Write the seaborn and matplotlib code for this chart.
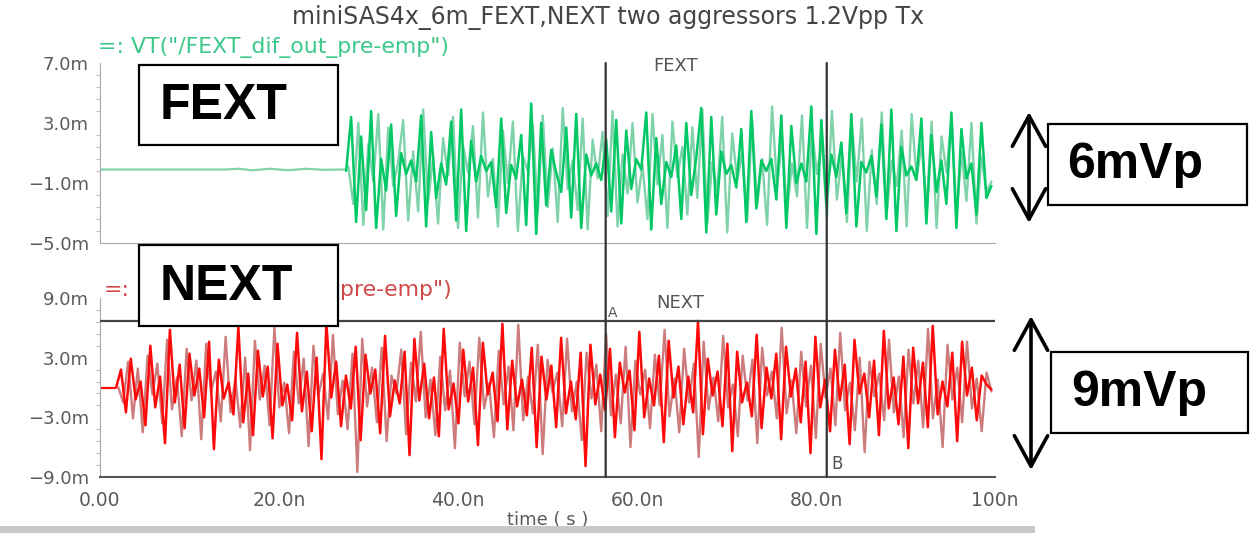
import numpy as np
import matplotlib
matplotlib.use("Agg")
import matplotlib.pyplot as plt
import seaborn as sns
from matplotlib.patches import Rectangle, FancyArrowPatch, ConnectionPatch
from matplotlib.ticker import FixedLocator, MultipleLocator, AutoMinorLocator

# ---------------- data ----------------
title = "miniSAS4x_6m_FEXT,NEXT two aggressors 1.2Vpp Tx"
fext_legend = '=: VT("/FEXT_dif_out_pre-emp")'
next_legend_left = '=:'
next_legend_right = 'pre-emp")'

x_ticks = [0, 20, 40, 60, 80, 100]
x_tick_labels = ["0.00", "20.0n", "40.0n", "60.0n", "80.0n", "100n"]
fext_y_ticks = [7, 3, -1, -5]
next_y_ticks = [9, 3, -3, -9]

cursor_t = [56.5, 81.2]          # ns, cursors A and B
next_level = 6.7                 # mV, horizontal marker in NEXT pane

fext_quiet_t = [0.0, 14.0, 15.5, 17.0, 19.0, 21.0, 23.0, 25.0, 27.4]
fext_quiet_v = [-0.1, -0.1, -0.05, -0.15, -0.05, -0.15, -0.05, -0.12, -0.1]
fext_start, fext_end = 27.5, 99.6

fext_bright = [
    -0.2, 3.4, -3.6, 2.1, -2.8, 3.8, -4.0, 0.6, -1.5, 2.9,
    -3.2, 1.0, -0.4, 0.5, -0.9, 3.5, -3.9, 2.4, -2.0, 0.3,
    -1.1, 3.1, -3.5, 3.9, -4.2, 1.8, -0.9, 0.8, -0.2, 0.4,
    -2.6, 3.3, -3.0, 0.2, -0.7, 2.2, -3.8, 4.3, -4.4, 3.0,
    -2.5, 1.2, -0.3, -1.6, 2.7, -3.3, 3.6, -4.0, 0.9, -0.5,
    0.3, -0.8, 1.9, -2.9, 3.2, -3.7, 2.5, -1.4, 0.6, -0.1,
    3.7, -4.1, 2.0, -2.4, 0.4, -0.6, 1.5, -3.4, 3.0, -1.8,
    0.7, 4.0, -4.3, 3.4, -3.1, 1.1, -0.4, 0.2, -1.3, 2.6,
    -3.6, 3.8, -2.7, 0.5, -0.2, 0.6, -2.1, 3.5, -4.0, 2.8,
    -1.0, 0.3, -0.9, 4.1, -4.4, 3.2, -2.3, 0.9, -0.6, 1.7,
    -3.0, 3.6, -3.9, 0.4, -0.3, 0.8, -1.9, 2.9, -3.4, 3.9,
    -4.2, 1.4, -0.5, 0.1, -0.8, 3.3, -3.7, 2.2, -1.6, 0.5,
    -2.4, 3.7, -4.0, 2.6, -0.7, 0.3, -3.1, 3.0, -2.0, -1.2,
]
fext_pale = [
    0.1, -2.4, 3.0, -3.8, 1.6, -0.9, 3.6, -4.1, 2.7, -1.2,
    0.4, 3.2, -3.5, 1.1, -2.9, 3.9, -2.2, 0.7, -3.7, 2.0,
    -0.5, 3.4, -4.0, 1.5, -0.3, 2.8, -3.3, 3.7, -1.9, 0.6,
    -3.9, 2.5, -1.0, 3.1, -4.2, 0.8, -0.2, 2.9, -3.0, 3.5,
    -2.6, 1.3, -3.6, 4.0, -1.4, 0.5, -2.8, 3.3, -4.1, 1.9,
    -0.7, 2.4, -3.2, 3.8, -3.9, 0.9, -1.7, 3.0, -2.3, 0.2,
    -3.4, 3.6, -1.1, 2.2, -4.0, 3.1, -0.6, 1.4, -3.1, 2.7,
    -2.0, 3.9, -3.7, 0.4, -1.5, 3.4, -4.3, 2.3, -0.8, 1.0,
    -3.5, 3.2, -2.5, 0.6, -3.8, 4.1, -1.3, 2.0, -2.9, 0.3,
    -1.9, 3.5, -4.0, 2.6, -0.4, 1.8, -3.3, 3.8, -2.1, 0.9,
    -3.6, 2.9, -0.9, 3.3, -4.2, 1.2, -2.4, 3.7, -3.0, 0.5,
    -1.2, 2.5, -3.9, 3.6, -0.7, 1.6, -2.7, 3.1, -4.0, 2.1,
    -0.3, 3.4, -3.2, 1.1, -2.2, 3.0, -3.7, 0.8, -1.6, -0.9,
]

next_quiet_t = [0.0, 1.7]
next_quiet_v = [-0.1, -0.1]
next_start, next_end = 1.8, 99.6

next_bright = [
    0.0, 1.8, -2.5, 2.9, -1.2, 0.6, -3.8, 4.2, -2.0, 1.1,
    -5.6, 5.8, -1.5, 2.3, -4.1, 3.4, -0.8, 1.9, -3.0, 4.6,
    -6.2, 2.8, -1.1, 0.5, -2.7, 6.1, -3.5, 1.4, -4.8, 3.7,
    -0.9, 2.1, -5.1, 4.4, -1.8, 0.3, -3.3, 5.5, -2.4, 1.6,
    -4.4, 3.0, -7.2, 6.5, -1.0, 2.6, -3.9, 1.2, -2.1, 4.1,
    -5.3, 3.3, -0.6, 1.8, -4.6, 5.2, -2.9, 0.7, -1.6, 3.6,
    -6.8, 4.9, -1.3, 2.4, -3.1, 1.0, -4.9, 5.9, -2.2, 0.4,
    -3.6, 3.8, -1.4, 2.0, -5.8, 4.5, -0.7, 1.5, -3.4, 6.4,
    -4.2, 2.7, -1.9, 0.8, -2.8, 4.0, -6.0, 3.1, -1.2, 2.2,
    -4.0, 5.0, -2.6, 0.6, -3.2, 3.5, -7.9, 4.3, -1.7, 1.3,
    -2.3, 3.9, -5.0, 2.5, -0.5, 1.7, -4.3, 5.6, -3.0, 0.9,
    -1.8, 3.2, -5.5, 4.7, -1.0, 2.1, -3.7, 1.1, -2.5, 6.7,
    -4.7, 2.9, -0.8, 1.6, -3.9, 4.4, -6.4, 3.6, -1.5, 0.5,
    -2.9, 5.3, -4.1, 2.0, -1.1, 3.4, -5.2, 4.1, -0.9, 1.9,
    -3.5, 2.6, -6.6, 5.1, -2.0, 0.8, -4.4, 3.8, -1.3, 2.3,
    -5.7, 4.8, -0.6, 1.4, -3.0, 2.7, -4.8, 5.7, -2.1, 1.0,
    -3.7, 3.1, -6.1, 4.0, -1.6, 2.5, -4.0, 6.2, -2.7, 0.6,
    -1.9, 3.5, -5.4, 4.6, -0.8, 2.0, -3.3, 1.2, 0.3, -0.2,
]
next_pale = [
    0.0, -1.5, 2.6, -3.1, 1.9, -4.5, 3.2, -0.7, 2.4, -3.6,
    4.8, -2.2, 1.0, -4.9, 3.9, -1.3, 2.7, -5.2, 4.4, -0.4,
    1.6, -3.4, 5.1, -2.5, 0.9, -4.0, 3.0, -6.3, 4.7, -1.2,
    2.2, -3.8, 6.0, -2.0, 0.5, -4.6, 3.6, -1.6, 2.9, -5.9,
    4.2, -0.8, 1.4, -3.2, 5.3, -2.7, 0.7, -4.2, 3.4, -8.5,
    4.9, -1.9, 2.0, -3.5, 4.0, -5.4, 1.2, -0.6, 3.8, -4.7,
    2.5, -1.4, 5.6, -3.0, 0.8, -4.8, 3.1, -2.3, 1.7, -6.1,
    4.5, -0.9, 2.6, -3.7, 5.0, -2.1, 0.4, -5.0, 3.7, -1.7,
    2.1, -4.3, 6.3, -3.3, 1.1, -2.6, 4.3, -6.7, 2.8, -0.5,
    1.5, -3.9, 4.9, -2.4, 0.6, -5.3, 3.5, -1.1, 2.3, -4.4,
    5.4, -2.8, 1.3, -3.6, 4.1, -6.0, 2.7, -0.7, 1.8, -4.1,
    3.3, -1.8, 5.8, -2.9, 0.9, -4.5, 3.9, -1.5, 2.4, -7.0,
    4.6, -2.2, 1.0, -3.4, 5.2, -2.0, 0.3, -4.9, 3.2, -1.3,
    2.8, -5.6, 4.0, -0.8, 1.6, -3.1, 6.0, -2.6, 0.7, -4.6,
    3.6, -1.9, 2.2, -5.1, 4.4, -1.0, 1.9, -3.8, 5.5, -2.3,
    0.5, -4.3, 3.0, -6.5, 2.6, -0.9, 1.4, -3.3, 4.8, -2.5,
    1.1, -5.0, 3.8, -1.6, 2.7, -4.0, 5.9, -3.1, 0.8, -6.0,
    4.3, -1.2, 2.0, -3.5, 4.6, -2.1, 0.9, -4.4, 1.5, -0.4,
]

# ---------------- styling ----------------
sns.set_style("white")
plt.rcParams["font.family"] = ["DejaVu Sans"]

W, H = 1253, 533
fig = plt.figure(figsize=(W / 100, H / 100), dpi=100)


def fx(x):
    return x / W


def fy(y):
    return 1 - y / H


AX_L, AX_R = 100, 995
ax1 = fig.add_axes([fx(AX_L), fy(243), (AX_R - AX_L) / W, (243 - 63) / H])
ax2 = fig.add_axes([fx(AX_L), fy(477), (AX_R - AX_L) / W, (477 - 298) / H])

GREEN, GREEN_PALE = "#00c864", "#80d2aa"
RED, RED_PALE = "#ff0a0a", "#cc7c7c"
TICK_GRAY = "#5a5a5a"

# FEXT traces
sns.lineplot(x=fext_quiet_t, y=fext_quiet_v, ax=ax1, color=GREEN_PALE, lw=1.6,
             estimator=None, sort=False)
t_pale = np.linspace(fext_start + 0.25, fext_end, len(fext_pale))
t_bright = np.linspace(fext_start, fext_end, len(fext_bright))
sns.lineplot(x=t_pale, y=fext_pale, ax=ax1, color=GREEN_PALE, lw=1.7,
             estimator=None, sort=False)
sns.lineplot(x=t_bright, y=fext_bright, ax=ax1, color=GREEN, lw=1.8,
             estimator=None, sort=False)

# NEXT traces
sns.lineplot(x=next_quiet_t, y=next_quiet_v, ax=ax2, color=RED, lw=1.6,
             estimator=None, sort=False)
n_pale = np.linspace(next_start + 0.25, next_end, len(next_pale))
n_bright = np.linspace(next_start, next_end, len(next_bright))
sns.lineplot(x=n_pale, y=next_pale, ax=ax2, color=RED_PALE, lw=1.7,
             estimator=None, sort=False)
sns.lineplot(x=n_bright, y=next_bright, ax=ax2, color=RED, lw=1.8,
             estimator=None, sort=False)
ax2.axhline(next_level, color="#444444", lw=1.6, zorder=5)


def mfmt(v):
    return f"{v:.1f}m".replace("-", "\u2212")


for ax, yt, (lo, hi) in ((ax1, fext_y_ticks, (-5, 7)), (ax2, next_y_ticks, (-9, 9))):
    ax.set_xlim(0, 100)
    ax.set_ylim(lo, hi)
    ax.set_facecolor("none")
    for s in ("top", "right"):
        ax.spines[s].set_visible(False)
    ax.spines["left"].set_color("#aaaaaa")
    ax.yaxis.set_major_locator(FixedLocator(yt))
    ax.set_yticklabels([mfmt(v) for v in yt])
    ax.yaxis.set_minor_locator(AutoMinorLocator(5))
    ax.xaxis.set_major_locator(FixedLocator(x_ticks))
    ax.xaxis.set_minor_locator(MultipleLocator(2))
    ax.tick_params(axis="y", which="major", length=6, width=1, color="#aaaaaa",
                   labelcolor=TICK_GRAY, labelsize=13, pad=2, direction="out")
    ax.tick_params(axis="y", which="minor", length=3, width=0.8, color="#bbbbbb",
                   direction="out", left=True)
    ax.tick_params(axis="x", which="major", length=8, width=1.2, direction="inout")
    ax.tick_params(axis="x", which="minor", length=4, width=0.8, direction="in")
    ax.set_xlabel("")
    ax.set_ylabel("")

ax1.spines["bottom"].set_color("#aaaaaa")
ax1.tick_params(axis="x", which="both", color="#aaaaaa", labelbottom=False)
ax2.spines["bottom"].set_color("#555555")
ax2.spines["bottom"].set_linewidth(1.5)
ax2.tick_params(axis="x", which="both", color="#777777", labelcolor=TICK_GRAY,
                labelsize=13.5, pad=6)
ax2.set_xticklabels(x_tick_labels)
ax2.set_xlabel("time ( s )", color=TICK_GRAY, fontsize=13, labelpad=1)

# cursors spanning both panes
for t in cursor_t:
    con = ConnectionPatch(xyA=(t, 7), coordsA=ax1.transData,
                          xyB=(t, -9), coordsB=ax2.transData,
                          color="#333333", lw=1.6, zorder=6)
    fig.add_artist(con)

# viewer labels
fig.text(fx(608), fy(18), title, ha="center", va="center", fontsize=17, color="#444444")
fig.text(fx(98), fy(48), fext_legend, ha="left", va="center", fontsize=15.8, color="#3cc88a")
fig.text(fx(104), fy(290), next_legend_left, ha="left", va="center", fontsize=15.8, color="#d04848")
fig.text(fx(340), fy(290), next_legend_right, ha="left", va="center", fontsize=15.8, color="#d04848")
fig.text(fx(676), fy(66), "FEXT", ha="center", va="center", fontsize=13, color="#555555")
fig.text(fx(680), fy(303), "NEXT", ha="center", va="center", fontsize=13, color="#555555")
fig.text(fx(608), fy(313), "A", ha="left", va="center", fontsize=10, color="#555555")
fig.text(fx(831), fy(464), "B", ha="left", va="center", fontsize=12, color="#555555")

# status bar
fig.add_artist(Rectangle((0, fy(533)), fx(1035), (533 - 526) / H,
                         transform=fig.transFigure, facecolor="#c8c8c8",
                         edgecolor="none"))


# annotation boxes
def box(x0, y0, x1, y1, text, tx):
    fig.add_artist(Rectangle((fx(x0), fy(y1)), (x1 - x0) / W, (y1 - y0) / H,
                             transform=fig.transFigure, facecolor="white",
                             edgecolor="black", lw=1.6, zorder=10))
    fig.text(fx(tx), fy((y0 + y1) / 2 + 1), text, ha="left", va="center",
             fontsize=36, fontweight="bold", family="Liberation Sans",
             color="black", zorder=11)


box(139, 65, 338, 145, "FEXT", 160)
box(139, 245, 338, 326, "NEXT", 160)
box(1048, 124, 1247, 205, "6mVp", 1067)
box(1051, 352, 1248, 433, "9mVp", 1071)

for x, y0, y1 in ((1029, 112, 223), (1031, 316, 470)):
    arr = FancyArrowPatch((fx(x), fy(y0)), (fx(x), fy(y1)),
                          transform=fig.transFigure,
                          arrowstyle="<->,head_length=1.1,head_width=0.6",
                          mutation_scale=20, lw=2.6, color="black",
                          shrinkA=0, shrinkB=0)
    fig.add_artist(arr)

fig.savefig("out.png", dpi=100)
